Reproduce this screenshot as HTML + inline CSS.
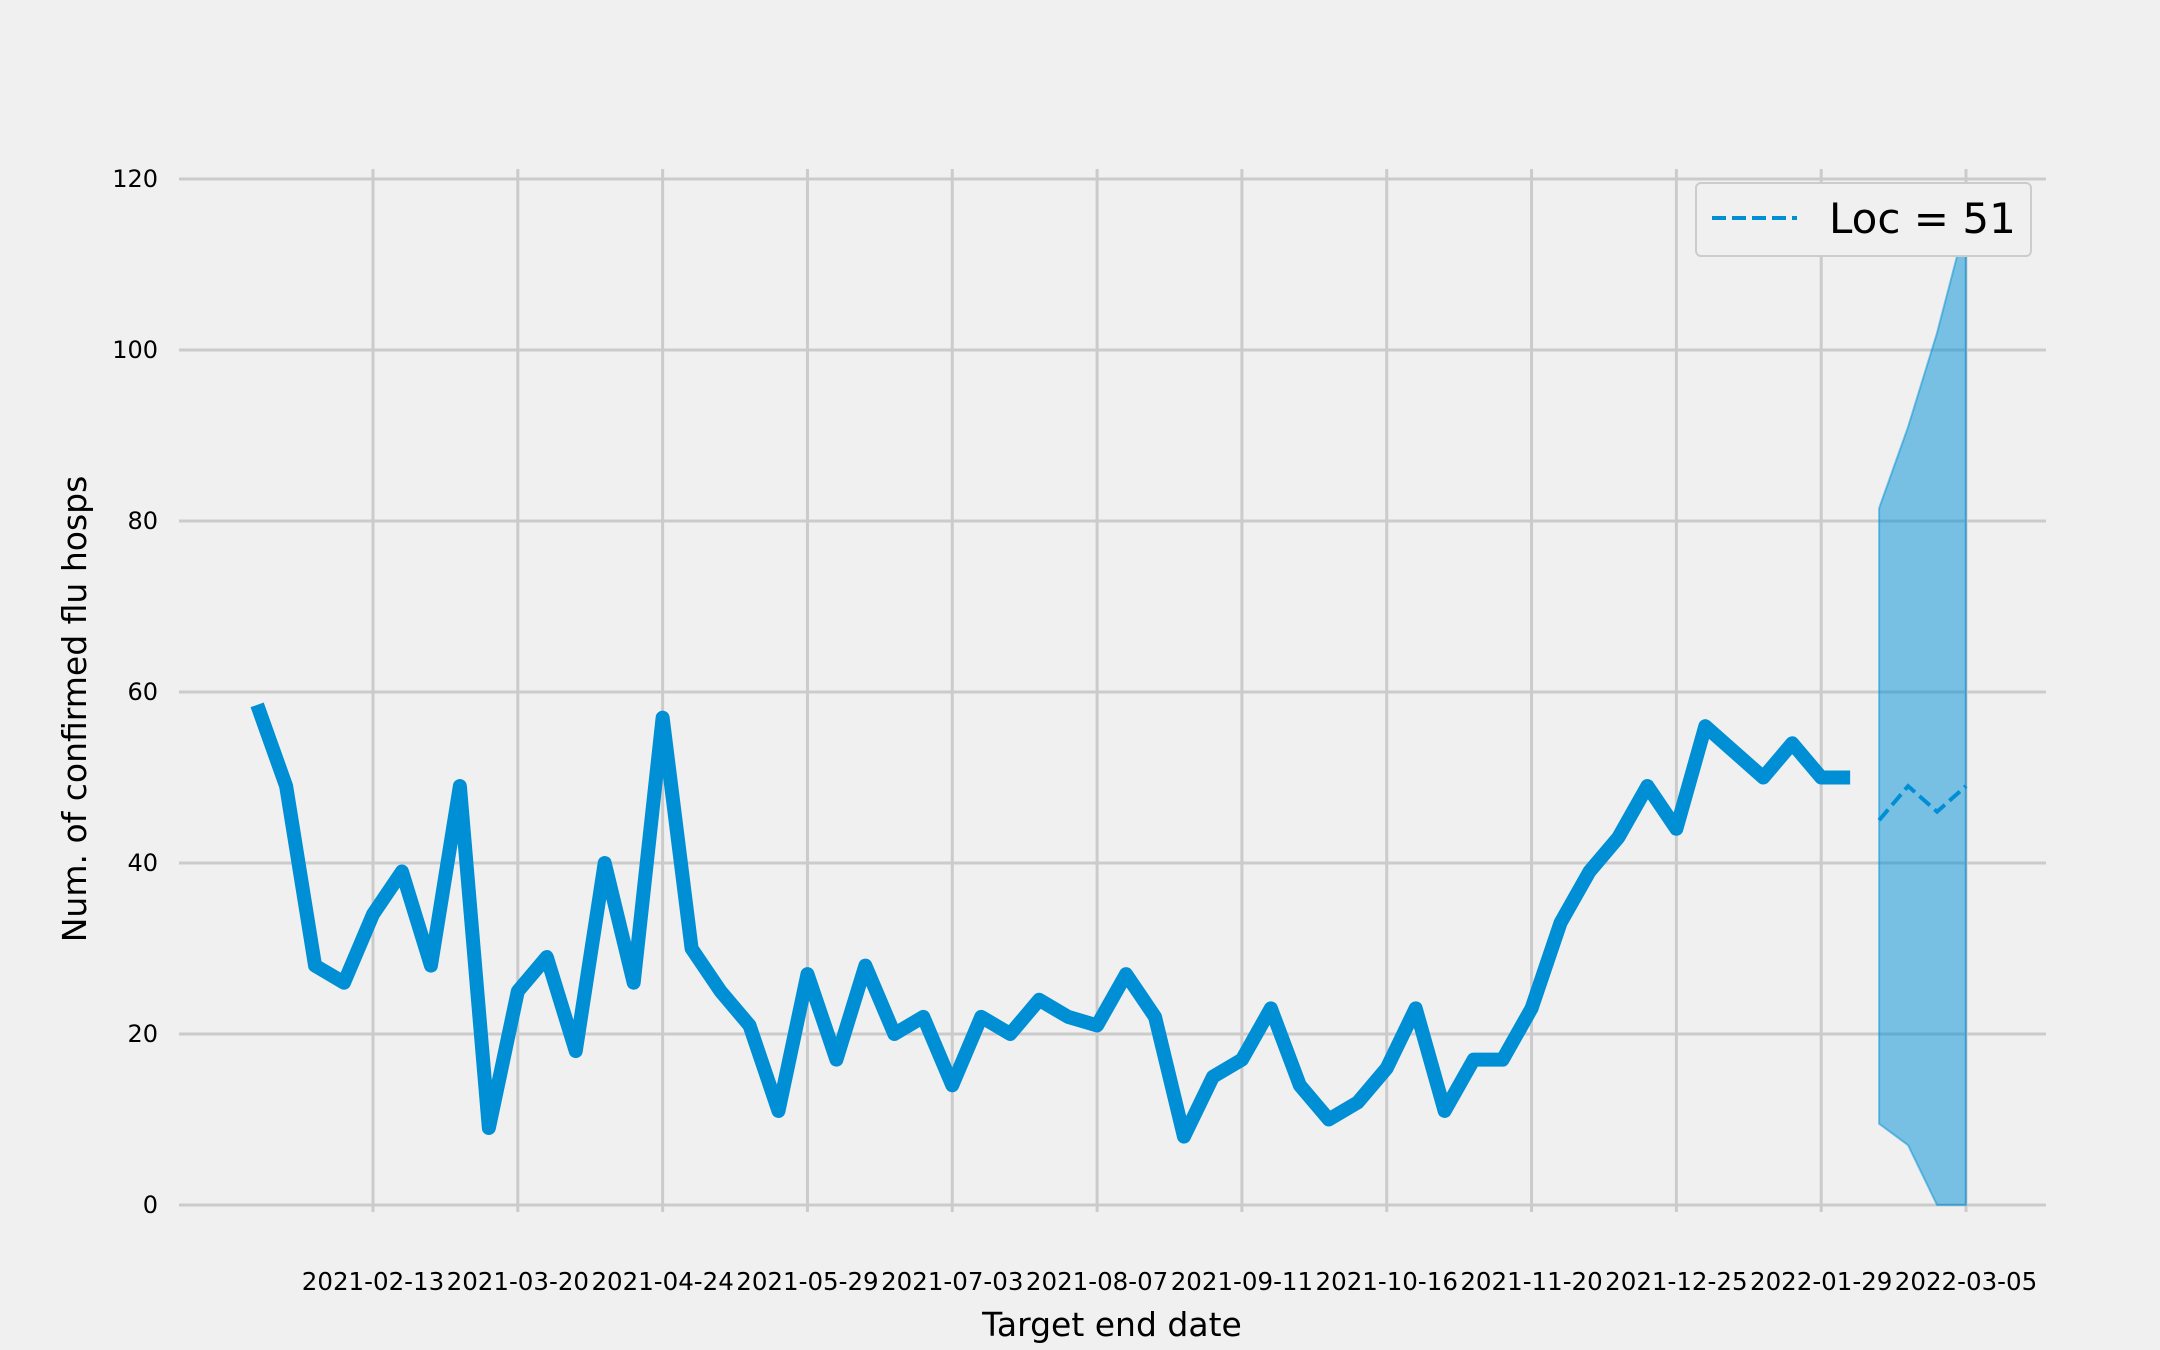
<!DOCTYPE html>
<html><head><meta charset="utf-8"><style>
html,body{margin:0;padding:0;background:#f0f0f0;}
svg{display:block;font-family:"DejaVu Sans","Liberation Sans",sans-serif;}
</style></head><body>
<svg id="chart" width="2160" height="1350" viewBox="0 0 2160 1350" xmlns="http://www.w3.org/2000/svg">
<rect width="2160" height="1350" fill="#f0f0f0"/>
<g id="grid"></g><g id="marks"></g><g id="labels"></g>
<text x="1112" y="1336" text-anchor="middle" font-size="33" fill="#000">Target end date</text>
<text transform="translate(86,709) rotate(-90)" text-anchor="middle" font-size="33" fill="#000">Num. of confirmed flu hosps</text>
<g>
<rect x="1696" y="183" width="335" height="73" rx="5" fill="#f0f0f0" stroke="#cccccc" stroke-width="2"/>
<line x1="1712" y1="218" x2="1797" y2="218" stroke="#008fd5" stroke-width="4" stroke-dasharray="14,6"/>
<text x="1829" y="233" font-size="42" fill="#000">Loc = 51</text>
</g>
</svg>
<script>
const xTickLabels=["2021-02-13","2021-03-20","2021-04-24","2021-05-29","2021-07-03","2021-08-07","2021-09-11","2021-10-16","2021-11-20","2021-12-25","2022-01-29","2022-03-05"];
const yTicks=[0,20,40,60,80,100,120];
const obsWeeks=[-4,-3,-2,-1,0,1,2,3,4,5,6,7,8,9,10,11,12,13,14,15,16,17,18,19,20,21,22,23,24,25,26,27,28,29,30,31,32,33,34,35,36,37,38,39,40,41,42,43,44,45,46,47,48,49,50,51];
const obsValues=[58.5,49,28,26,34,39,28,49,9,25,29,18,40,26,57,30,25,21,11,27,17,28,20,22,14,22,20,24,22,21,27,22,8,15,17,23,14,10,12,16,23,11,17,17,23,33,39,43,49,44,56,53,50,54,50,50];
const fcWeeks=[52,53,54,55];
const fcMedian=[45,49,46,49];
const fcLower=[9.5,7,0,0];
const fcUpper=[81.5,91,102,115];

const NS="http://www.w3.org/2000/svg";
const X0=373,XW=(1966-373)/55;
const x=w=>X0+w*XW;
const y=v=>1205-v*(1205-179)/120;
function mk(tag,attrs,parent){const e=document.createElementNS(NS,tag);for(const k in attrs)e.setAttribute(k,attrs[k]);parent.appendChild(e);return e;}
const grid=document.getElementById('grid'),marks=document.getElementById('marks'),labels=document.getElementById('labels');
yTicks.forEach(t=>{
  const l=mk('line',{x1:179,x2:2046,y1:y(t),y2:y(t),stroke:'#cbcbcb','stroke-width':3},grid);
  
  
  const tx=mk('text',{x:158,y:y(t)+8,'text-anchor':'end','font-size':24,fill:'#000'},labels);
  tx.textContent=t;
  
  
});
xTickLabels.forEach((s,i)=>{
  const xx=x(i*5);
  const l=mk('line',{x1:xx,x2:xx,y1:169,y2:1212,stroke:'#cbcbcb','stroke-width':3},grid);
  
  
  const tx=mk('text',{x:xx,y:1290,'text-anchor':'middle','font-size':24.5,fill:'#000'},labels);
  tx.textContent=s;
  
  
});
let band=fcWeeks.map((w,i)=>x(w)+','+y(fcUpper[i])).join(' ')+' '+fcWeeks.slice().reverse().map((w,j)=>{const i=fcWeeks.length-1-j;return x(w)+','+y(fcLower[i]);}).join(' ');
const b=mk('polygon',{points:band,fill:'#008fd5','fill-opacity':0.5,stroke:'#008fd5','stroke-opacity':0.5,'stroke-width':2},marks);


const obs=mk('polyline',{points:obsWeeks.map((w,i)=>x(w)+','+y(obsValues[i])).join(' '),fill:'none',stroke:'#008fd5','stroke-width':14,'stroke-linejoin':'round','stroke-linecap':'butt'},marks);


const med=mk('polyline',{points:fcWeeks.map((w,i)=>x(w)+','+y(fcMedian[i])).join(' '),fill:'none',stroke:'#008fd5','stroke-width':4,'stroke-dasharray':'14,6'},marks);


</script>
</body></html>
